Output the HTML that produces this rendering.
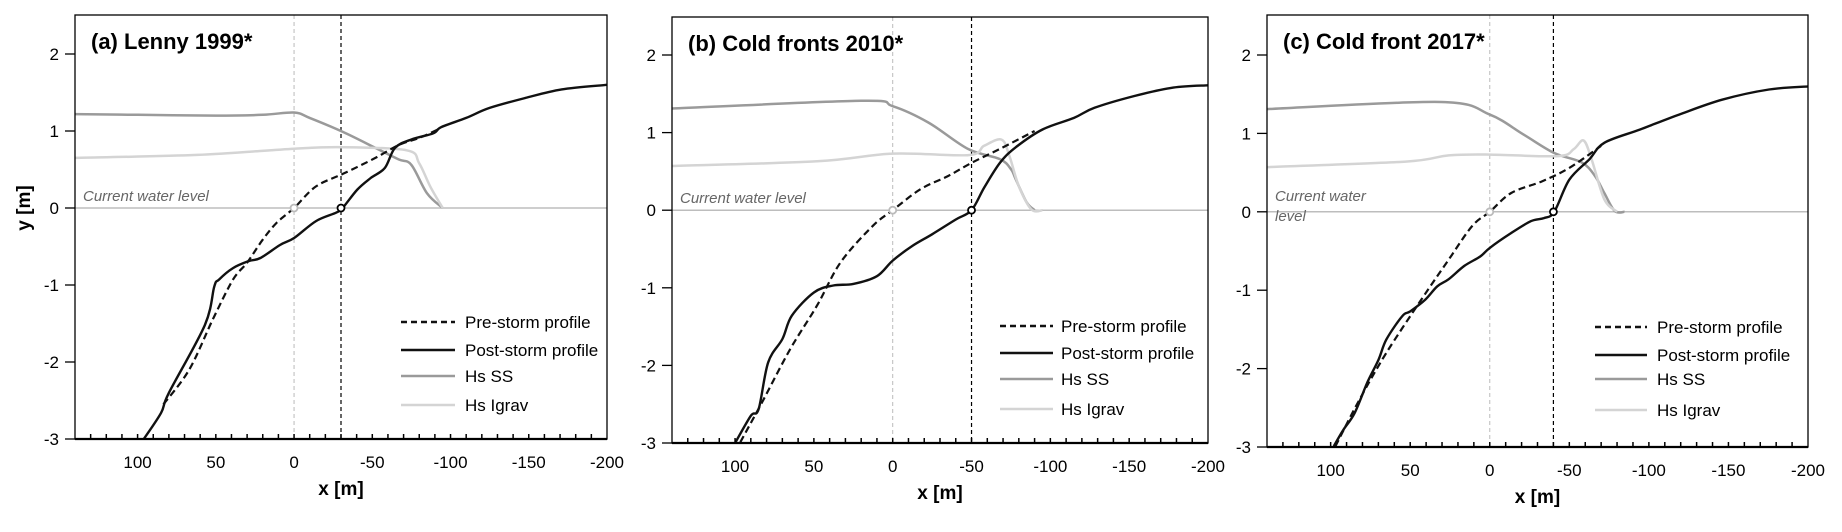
<!DOCTYPE html>
<html><head><meta charset="utf-8">
<style>
html,body{margin:0;padding:0;background:#fff;}
svg{display:block;font-family:"Liberation Sans",Arial,sans-serif;}
</style></head>
<body>
<svg id="chart" width="1842" height="532" viewBox="0 0 1842 532"></svg>
<script>
// ---- Panel (a) Lenny 1999 ----
const aSSx=[140,100,50,20,0,-10,-31,-54,-67,-75,-85,-95];
const aSSy=[1.22,1.21,1.2,1.21,1.24,1.17,0.99,0.76,0.63,0.56,0.19,0];
const aIGx=[140,62,0,-31,-72,-80,-87,-95];
const aIGy=[0.65,0.69,0.77,0.79,0.75,0.58,0.28,0];
const aPREx=[83.5,67,52,39,30,20,11,0,-14,-32,-52,-67,-80,-92];
const aPREy=[-2.55,-2.1,-1.45,-0.93,-0.71,-0.41,-0.19,0,0.28,0.45,0.65,0.82,0.91,1.02];
const aPOSTx=[96,85,80,57,51,48,39,29,21.5,9,0,-14,-27,-31,-40.5,-49,-58,-64.5,-75,-89,-94,-110,-125,-148,-171,-200];
const aPOSTy=[-3,-2.66,-2.4,-1.52,-1.02,-0.93,-0.78,-0.69,-0.65,-0.48,-0.39,-0.17,-0.06,0,0.24,0.39,0.52,0.78,0.89,0.97,1.05,1.17,1.3,1.43,1.54,1.6];
// ---- Panel (b) Cold fronts 2010 ----
const bSSx=[140,20,0,-22.6,-47.7,-67.8,-75,-78,-85,-90];
const bSSy=[1.31,1.41,1.34,1.13,0.79,0.66,0.53,0.4,0.1,0];
const bIGx=[140,48,0,-48,-58,-69,-74,-80,-88,-95];
const bIGy=[0.57,0.63,0.73,0.71,0.83,0.91,0.7,0.31,0.01,0];
const bPREx=[96.7,83,65,48,33,12.5,0,-17.6,-35,-50,-68,-90];
const bPREy=[-2.99,-2.48,-1.79,-1.23,-0.67,-0.2,0,0.27,0.44,0.61,0.79,1.02];
const bPOSTx=[100,90,85,79,70,64,50,37.7,25,10,0,-12.5,-25,-40,-50,-58,-68,-78,-95,-115,-128,-153,-178,-200];
const bPOSTy=[-3,-2.65,-2.56,-1.96,-1.66,-1.36,-1.06,-0.97,-0.95,-0.85,-0.65,-0.46,-0.31,-0.12,0,0.29,0.61,0.81,1.04,1.19,1.32,1.47,1.58,1.61];
// ---- Panel (c) Cold front 2017 ----
const cSSx=[140,30.7,0,-20.9,-40.5,-57.7,-66,-72,-78.5,-84.7];
const cSSy=[1.31,1.4,1.24,0.99,0.75,0.63,0.46,0.24,0.01,0];
const cIGx=[140,52.8,25.8,0,-43,-52.8,-59,-64,-72,-80];
const cIGy=[0.57,0.64,0.72,0.73,0.71,0.8,0.91,0.67,0.16,0];
const cPREx=[97,82,65,43,25.8,11,0,-13.5,-33,-50,-70];
const cPREy=[-2.99,-2.4,-1.8,-1.12,-0.61,-0.18,0,0.24,0.39,0.56,0.84];
const cPOSTx=[98,92,85,77,70,65,55,50,40.5,33,25.8,16,6,0,-13.5,-25.8,-34,-40.5,-50,-62.6,-72,-94.5,-119,-146,-175.5,-200];
const cPOSTy=[-2.99,-2.78,-2.57,-2.18,-1.89,-1.63,-1.33,-1.27,-1.12,-0.95,-0.86,-0.69,-0.57,-0.46,-0.27,-0.12,-0.08,0,0.41,0.67,0.88,1.05,1.24,1.43,1.56,1.6];

const xTicks=[100,50,0,-50,-100,-150,-200];
const yTicks=[2,1,0,-1,-2,-3];
const titles=["(a) Lenny 1999*","(b) Cold fronts 2010*","(c) Cold front 2017*"];
const shoreline=[-30,-50,-40];
const legendLabels=["Pre-storm profile","Post-storm profile","Hs SS","Hs Igrav"];

const NS="http://www.w3.org/2000/svg";
const svg=document.getElementById('chart');
function mk(tag,attrs,parent){const e=document.createElementNS(NS,tag);for(const k in attrs)e.setAttribute(k,attrs[k]);(parent||svg).appendChild(e);return e;}
function smooth(P){
  let d='M'+P[0][0].toFixed(1)+','+P[0][1].toFixed(1);
  for(let i=0;i<P.length-1;i++){
    const p0=P[i-1]||P[i],p1=P[i],p2=P[i+1],p3=P[i+2]||P[i+1];
    const c1=[p1[0]+(p2[0]-p0[0])/6,p1[1]+(p2[1]-p0[1])/6];
    const c2=[p2[0]-(p3[0]-p1[0])/6,p2[1]-(p3[1]-p1[1])/6];
    d+=' C'+c1[0].toFixed(1)+','+c1[1].toFixed(1)+' '+c2[0].toFixed(1)+','+c2[1].toFixed(1)+' '+p2[0].toFixed(1)+','+p2[1].toFixed(1);
  }
  return d;
}

const panels=[
 {L:75,R:607,T:15,B:439,y2:54,key:'a',ss:[aSSx,aSSy],ig:[aIGx,aIGy],pre:[aPREx,aPREy],post:[aPOSTx,aPOSTy],leg:{x1:401,x2:455,tx:465,ys:[322,350,376,405]},ylab:true,wrapCWL:false},
 {L:672,R:1208,T:17,B:443,y2:55,key:'b',ss:[bSSx,bSSy],ig:[bIGx,bIGy],pre:[bPREx,bPREy],post:[bPOSTx,bPOSTy],leg:{x1:1000,x2:1053,tx:1061,ys:[326,353,379,409]},ylab:false,wrapCWL:false},
 {L:1267,R:1808,T:15,B:447,y2:55,key:'c',ss:[cSSx,cSSy],ig:[cIGx,cIGy],pre:[cPREx,cPREy],post:[cPOSTx,cPOSTy],leg:{x1:1595,x2:1647,tx:1657,ys:[327,355,379,410]},ylab:false,wrapCWL:true}
];

panels.forEach((p,i)=>{
  const g=mk('g',{});
  
  
  const unit=(p.B-p.y2)/5;
  const X=v=>p.L+(140-v)/340*(p.R-p.L);
  const Y=v=>p.B-(v+3)*unit;
  const clipId='clip'+i;
  const cp=mk('clipPath',{id:clipId},g);
  mk('rect',{x:p.L,y:p.T,width:p.R-p.L,height:p.B-p.T},cp);
  const zl=mk('line',{x1:p.L,x2:p.R,y1:Y(0),y2:Y(0),stroke:'#bdbdbd','stroke-width':1.5},g);
  
  
  const v0=mk('line',{x1:X(0),x2:X(0),y1:p.T,y2:p.B,stroke:'#bbb','stroke-width':1,'stroke-dasharray':'4,3'},g);
  
  
  const v1=mk('line',{x1:X(shoreline[i]),x2:X(shoreline[i]),y1:p.T,y2:p.B,stroke:'#000','stroke-width':1.2,'stroke-dasharray':'4,3'},g);
  
  
  const cw=mk('text',{x:p.L+8,y:Y(0)-7,'font-size':15,'font-style':'italic',fill:'#666'},g);
  if(p.wrapCWL){cw.setAttribute('y',Y(0)-11);cw.textContent='Current water';const t2=mk('text',{x:p.L+8,y:Y(0)+9,'font-size':15,'font-style':'italic',fill:'#666'},g);t2.textContent='level';}
  else cw.textContent='Current water level';
  
  
  const series=[[p.ss,'#9a9a9a',2.5,null,'hs-ss-line'],[p.ig,'#d4d4d4',2.5,null,'hs-igrav-line'],[p.pre,'#111',2.2,'7,4','pre-storm-line'],[p.post,'#111',2.4,null,'post-storm-line']];
  series.forEach(s=>{
    const [xs,ys]=s[0];
    const P=xs.map((v,k)=>[X(v),Y(ys[k])]);
    const a={d:smooth(P),fill:'none',stroke:s[1],'stroke-width':s[2],'stroke-linejoin':'round','clip-path':'url(#'+clipId+')'};
    if(s[3])a['stroke-dasharray']=s[3];
    const pl=mk('path',a,g);
    
    
  });
  const m0=mk('circle',{cx:X(0),cy:Y(0),r:3.5,fill:'#fff',stroke:'#bbb','stroke-width':1.8},g);
  
  
  const m1=mk('circle',{cx:X(shoreline[i]),cy:Y(0),r:3.5,fill:'#fff',stroke:'#000','stroke-width':1.8},g);
  
  
  const fr=mk('rect',{x:p.L,y:p.T,width:p.R-p.L,height:p.B-p.T,fill:'none',stroke:'#000','stroke-width':1.3},g);
  
  
  mk('line',{x1:p.L,x2:p.R,y1:p.B,y2:p.B,stroke:'#000','stroke-width':2.2},g);
  for(let v=130;v>-200;v-=10){mk('line',{x1:X(v),x2:X(v),y1:p.B,y2:p.B-5,stroke:'#000','stroke-width':1.5},g);}
  xTicks.forEach(v=>{
    const t=mk('text',{x:X(v),y:p.B+29,'font-size':17,'text-anchor':'middle',fill:'#000'},g);
    t.textContent=String(v);
    
    
  });
  yTicks.forEach(v=>{
    mk('line',{x1:p.L-10,x2:p.L,y1:Y(v),y2:Y(v),stroke:'#000','stroke-width':1.3},g);
    const t=mk('text',{x:p.L-16,y:Y(v)+6,'font-size':17,'text-anchor':'end',fill:'#000'},g);
    t.textContent=String(v);
    
    
  });
  const xt=mk('text',{x:(p.L+p.R)/2,y:p.B+56,'font-size':19,'font-weight':'bold','text-anchor':'middle'},g);
  xt.textContent='x [m]';
  
  
  if(p.ylab){
    const yt=mk('text',{x:0,y:0,'font-size':19,'font-weight':'bold','text-anchor':'middle',transform:'translate(30,'+Y(0)+') rotate(-90)'},g);
    yt.textContent='y [m]';
    
    
  }
  const ti=mk('text',{x:p.L+16,y:p.T+34,'font-size':22,'font-weight':'bold'},g);
  ti.textContent=titles[i];
  
  
  const lg=p.leg;
  const styles=[['#111','6,4'],['#111',null],['#9a9a9a',null],['#d4d4d4',null]];
  legendLabels.forEach((lab,k)=>{
    const a={x1:lg.x1,x2:lg.x2,y1:lg.ys[k],y2:lg.ys[k],stroke:styles[k][0],'stroke-width':2.6};
    if(styles[k][1])a['stroke-dasharray']=styles[k][1];
    const ln=mk('line',a,g);
    
    
    const t=mk('text',{x:lg.tx,y:lg.ys[k]+6,'font-size':17,fill:'#000'},g);
    t.textContent=lab;
    
    
  });
});
</script>
</body></html>
